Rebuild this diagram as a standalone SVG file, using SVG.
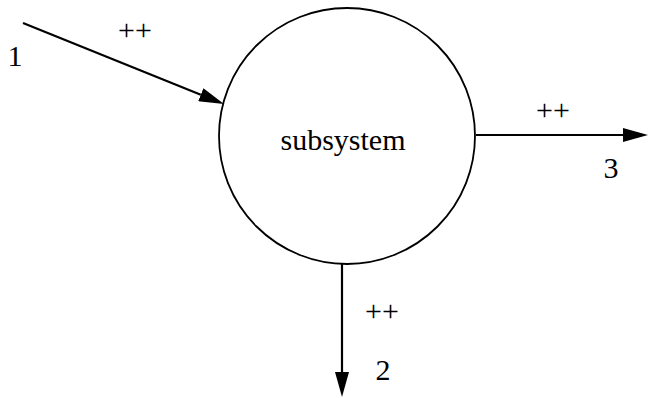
<svg xmlns="http://www.w3.org/2000/svg" width="648" height="398" viewBox="0 0 648 398">
<style>
.lbl{font-family:"Liberation Serif","Times New Roman",serif;font-size:30px;fill:#000}
.edge{stroke:#000;stroke-width:2.2;fill:none}
.node{fill:#fff;stroke:#000;stroke-width:1.8}
</style>
<defs>
<marker id="arr" viewBox="0 0 25 14" markerWidth="25" markerHeight="14" markerUnits="userSpaceOnUse" refX="0" refY="7" orient="auto">
<path d="M0,0 L25,7 L0,14 z" fill="#000"/>
</marker>
</defs>
<rect width="648" height="398" fill="#fff"/>
<g id="subsystem">
<circle class="node" cx="347" cy="136" r="128"/>
<text class="lbl" x="343" y="150" text-anchor="middle">subsystem</text>
</g>
<g id="connectors">
<path class="edge" d="M23,23 L200.8,94.7" marker-end="url(#arr)"/>
<path class="edge" d="M476,135 L623,135" marker-end="url(#arr)"/>
<path class="edge" d="M342,264 L342,372" marker-end="url(#arr)"/>
</g>
<g id="labels">
<text class="lbl" x="15" y="66" text-anchor="middle">1</text>
<text class="lbl" x="135" y="40" text-anchor="middle">++</text>
<text class="lbl" x="553" y="120" text-anchor="middle">++</text>
<text class="lbl" x="611" y="178" text-anchor="middle">3</text>
<text class="lbl" x="382" y="321" text-anchor="middle">++</text>
<text class="lbl" x="383" y="380" text-anchor="middle">2</text>
</g>
</svg>
